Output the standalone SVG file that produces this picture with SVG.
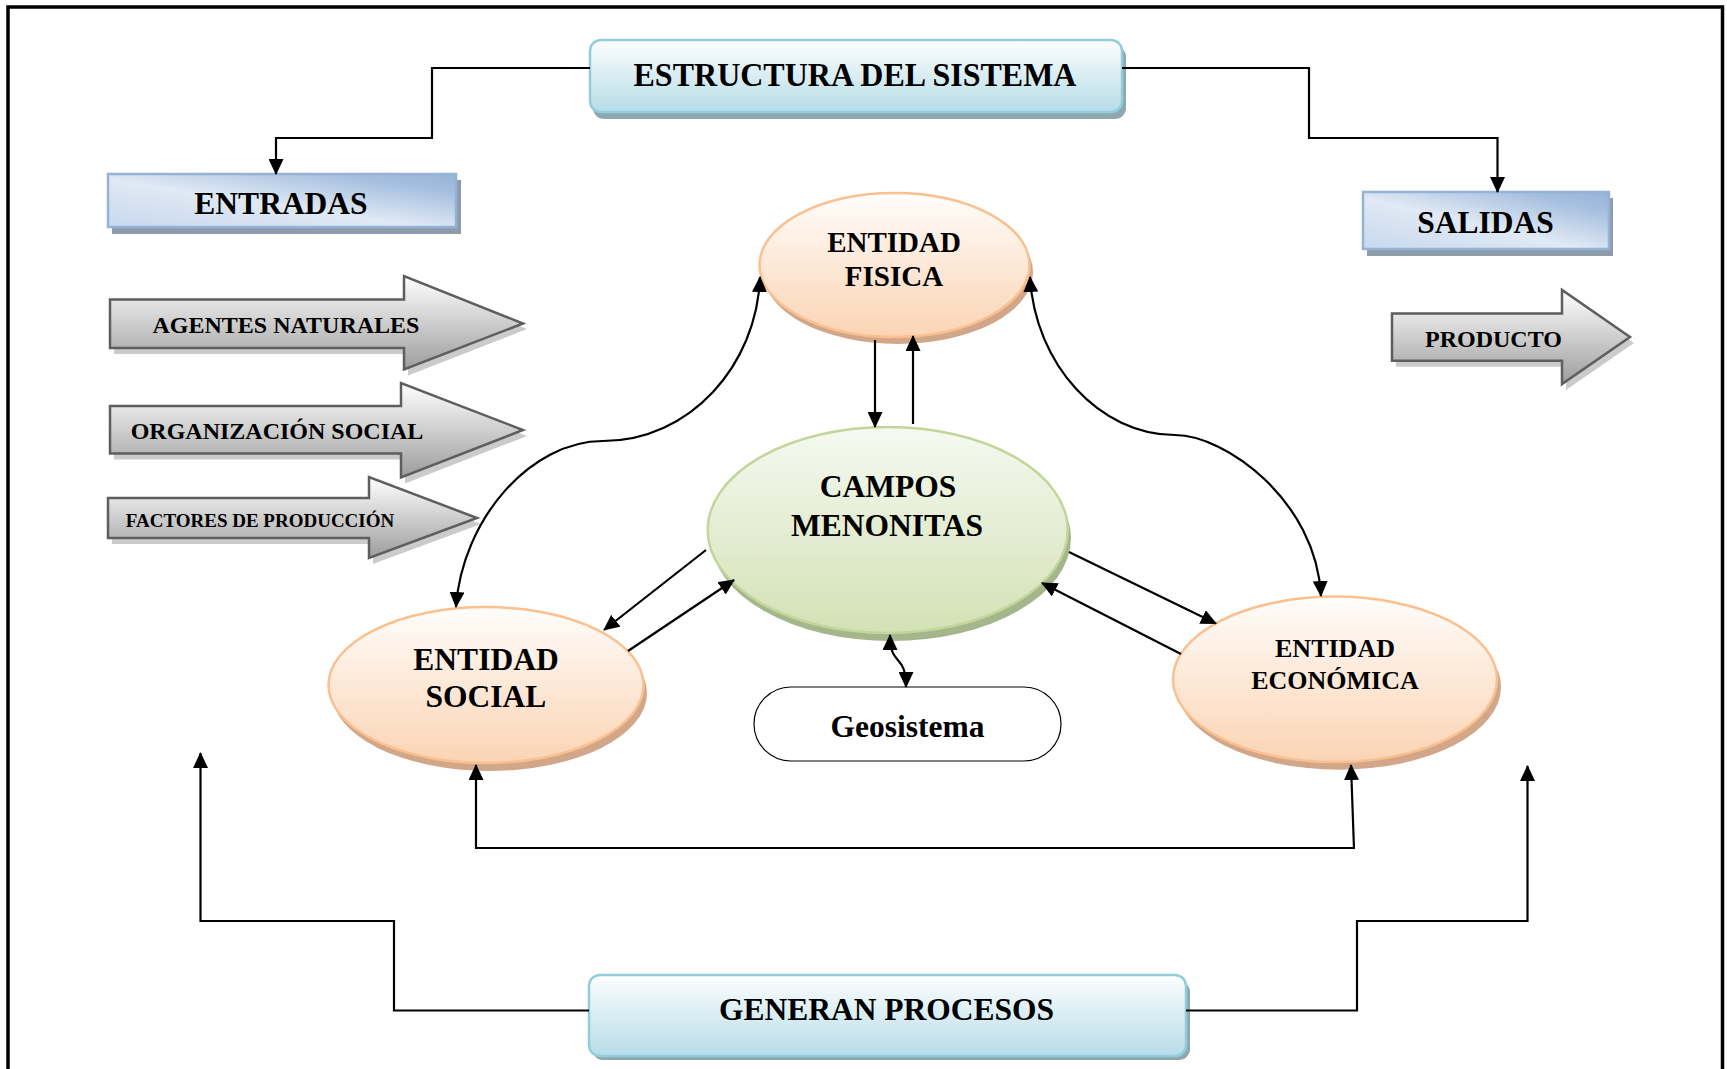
<svg xmlns="http://www.w3.org/2000/svg" width="1727" height="1069" viewBox="0 0 1727 1069">
<defs>
<linearGradient id="gBlue" x1="0" y1="0" x2="0" y2="1"><stop offset="0" stop-color="#fdfeff"/><stop offset="1" stop-color="#b6dce7"/></linearGradient>
<linearGradient id="gIn" x1="0" y1="1" x2="1" y2="0"><stop offset="0" stop-color="#c8d8ee"/><stop offset="0.45" stop-color="#e0e9f4"/><stop offset="0.82" stop-color="#a6bfdf"/><stop offset="1" stop-color="#95b3d7"/></linearGradient>
<linearGradient id="gGray" x1="0" y1="0" x2="0" y2="1"><stop offset="0" stop-color="#ffffff"/><stop offset="1" stop-color="#9d9d9d"/></linearGradient>
<linearGradient id="gOrange" x1="0" y1="0" x2="0" y2="1"><stop offset="0" stop-color="#fffdfb"/><stop offset="1" stop-color="#fbd4b4"/></linearGradient>
<linearGradient id="gGreen" x1="0" y1="0" x2="0" y2="1"><stop offset="0" stop-color="#f6f9f1"/><stop offset="1" stop-color="#d3e1b5"/></linearGradient>
<marker id="ah" viewBox="0 0 16 15" refX="15" refY="7.5" markerWidth="16" markerHeight="15" markerUnits="userSpaceOnUse" orient="auto-start-reverse"><path d="M0,0 L16,7.5 L0,15 z" fill="#000"/></marker>
<style>
.t{font-family:"Liberation Serif","Times New Roman",serif;font-weight:bold;fill:#000;text-anchor:middle}
.conn{fill:none;stroke:#000;stroke-width:2.2}
.boxB{fill:url(#gBlue);stroke:#92cddc;stroke-width:2.5}
.shB{fill:#8fa8b0}
.boxI{fill:url(#gIn);stroke:#95b3d7;stroke-width:2.5}
.shI{fill:#8e9bab}
.arr{fill:url(#gGray);stroke:#5e5e5e;stroke-width:2.5}
.shA{fill:#cbcbcb}
.elO{fill:url(#gOrange);stroke:#fac08f;stroke-width:2.5}
.shO{fill:#d2a789}
.elG{fill:url(#gGreen);stroke:#c2d69a;stroke-width:2.5}
.shG{fill:#a5b68c}
</style>
</defs>
<rect x="0" y="0" width="1727" height="1069" fill="#fff"/>
<rect x="8" y="7" width="1714.5" height="1100" fill="none" stroke="#000" stroke-width="3.5"/>

<g id="estructura">
<rect class="shB" x="593" y="46" width="533" height="73" rx="11"/>
<rect class="boxB" x="590" y="40" width="532" height="72" rx="11"/>
<text class="t" x="855" y="86" font-size="33" textLength="443" lengthAdjust="spacingAndGlyphs">ESTRUCTURA DEL SISTEMA</text>
</g>

<g id="entradas">
<rect class="shI" x="112" y="180" width="349" height="54"/>
<rect class="boxI" x="108" y="174" width="348" height="53"/>
<text class="t" x="281" y="214" font-size="31.5">ENTRADAS</text>
</g>

<g id="salidas">
<rect class="shI" x="1367" y="198" width="246" height="58"/>
<rect class="boxI" x="1363" y="192" width="246" height="57"/>
<text class="t" x="1485.5" y="233" font-size="31.5">SALIDAS</text>
</g>

<g id="agentes">
<polygon class="shA" points="114,305.5 408,305.5 408,282 527,329 408,375.5 408,354 114,354"/>
<polygon class="arr" points="110,299.5 404,299.5 404,276 523,323.5 404,369.5 404,348 110,348"/>
<text class="t" x="286" y="333" font-size="24">AGENTES NATURALES</text>
</g>

<g id="organizacion">
<polygon class="shA" points="114,412 405,412 405,389 527,436 405,483.5 405,459.6 114,459.6"/>
<polygon class="arr" points="110,406 401,406 401,383 523,430 401,477.5 401,453.6 110,453.6"/>
<text class="t" x="277" y="439" font-size="24">ORGANIZACIÓN SOCIAL</text>
</g>

<g id="factores">
<polygon class="shA" points="112,504 373,504 373,483 481,524 373,564 373,544 112,544"/>
<polygon class="arr" points="108,498 369,498 369,477 477,518 369,558 369,538 108,538"/>
<text class="t" x="260" y="527" font-size="19">FACTORES DE PRODUCCIÓN</text>
</g>

<g id="producto">
<polygon class="shA" points="1396,319.6 1566,319.6 1566,296 1634,343 1566,390 1566,366.7 1396,366.7"/>
<polygon class="arr" points="1392,313.6 1562,313.6 1562,290 1630,337 1562,384 1562,360.7 1392,360.7"/>
<text class="t" x="1493.5" y="347" font-size="24">PRODUCTO</text>
</g>

<g id="fisica">
<ellipse class="shO" cx="898" cy="272" rx="135" ry="72"/>
<ellipse class="elO" cx="894.5" cy="265" rx="135" ry="72"/>
<text class="t" x="894" y="252" font-size="29">ENTIDAD</text>
<text class="t" x="894" y="286" font-size="29">FISICA</text>
</g>

<g id="campos">
<ellipse class="shG" cx="891" cy="538" rx="180" ry="103"/>
<ellipse class="elG" cx="887.7" cy="530" rx="180" ry="103"/>
<text class="t" x="888" y="497" font-size="31.5">CAMPOS</text>
<text class="t" x="887" y="536" font-size="31.5">MENONITAS</text>
</g>

<g id="social">
<ellipse class="shO" cx="489.5" cy="693" rx="157.5" ry="78"/>
<ellipse class="elO" cx="486" cy="685" rx="157.5" ry="78"/>
<text class="t" x="486" y="670" font-size="31.5">ENTIDAD</text>
<text class="t" x="486" y="707" font-size="31.5">SOCIAL</text>
</g>

<g id="economica">
<ellipse class="shO" cx="1339" cy="687" rx="162" ry="82.7"/>
<ellipse class="elO" cx="1335" cy="679.3" rx="162" ry="82.7"/>
<text class="t" x="1335" y="657" font-size="26">ENTIDAD</text>
<text class="t" x="1335" y="688.5" font-size="26">ECONÓMICA</text>
</g>

<g id="geosistema">
<rect x="754" y="687" width="307" height="74" rx="37" fill="#fff" stroke="#000" stroke-width="1.2"/>
<text class="t" x="907.5" y="737" font-size="31.5">Geosistema</text>
</g>

<g id="generan">
<rect class="shB" x="592" y="981" width="598" height="79" rx="11"/>
<rect class="boxB" x="589" y="975" width="597" height="81" rx="11"/>
<text class="t" x="886.5" y="1020" font-size="31.5">GENERAN PROCESOS</text>
</g>

<g id="connectors">
<path class="conn" d="M590,68 H432 V138 H276 V174" marker-end="url(#ah)"/>
<path class="conn" d="M1122,68 H1309 V138 H1497.5 V192" marker-end="url(#ah)"/>
<path class="conn" d="M875,340 V427" marker-end="url(#ah)"/>
<path class="conn" d="M913,424 V336" marker-end="url(#ah)"/>
<path class="conn" d="M760,277 C757,365 690,441 603,441 C530,441 462,520 456,607" marker-start="url(#ah)" marker-end="url(#ah)"/>
<path class="conn" d="M1030,277 C1035,365 1100,435 1175,435 C1225,435 1316,500 1321,596" marker-start="url(#ah)" marker-end="url(#ah)"/>
<path class="conn" d="M706,550 L604,630" marker-end="url(#ah)"/>
<path class="conn" d="M628,651 L734,580" marker-end="url(#ah)"/>
<path class="conn" d="M1069,552 L1216,623.5" marker-end="url(#ah)"/>
<path class="conn" d="M1181,654 L1042,583" marker-end="url(#ah)"/>
<path class="conn" d="M890,635 C890,668 906,652 906,687" marker-start="url(#ah)" marker-end="url(#ah)"/>
<path class="conn" stroke-width="2.6" d="M1354,848 H476 V765" marker-end="url(#ah)"/>
<path class="conn" stroke-width="2.6" d="M1354,849 L1351,765" marker-end="url(#ah)"/>
<path class="conn" d="M589,1010.5 H394 V921 H200.5 V753" marker-end="url(#ah)"/>
<path class="conn" d="M1186,1010.5 H1357 V921 H1527.5 V766" marker-end="url(#ah)"/>
</g>
</svg>
